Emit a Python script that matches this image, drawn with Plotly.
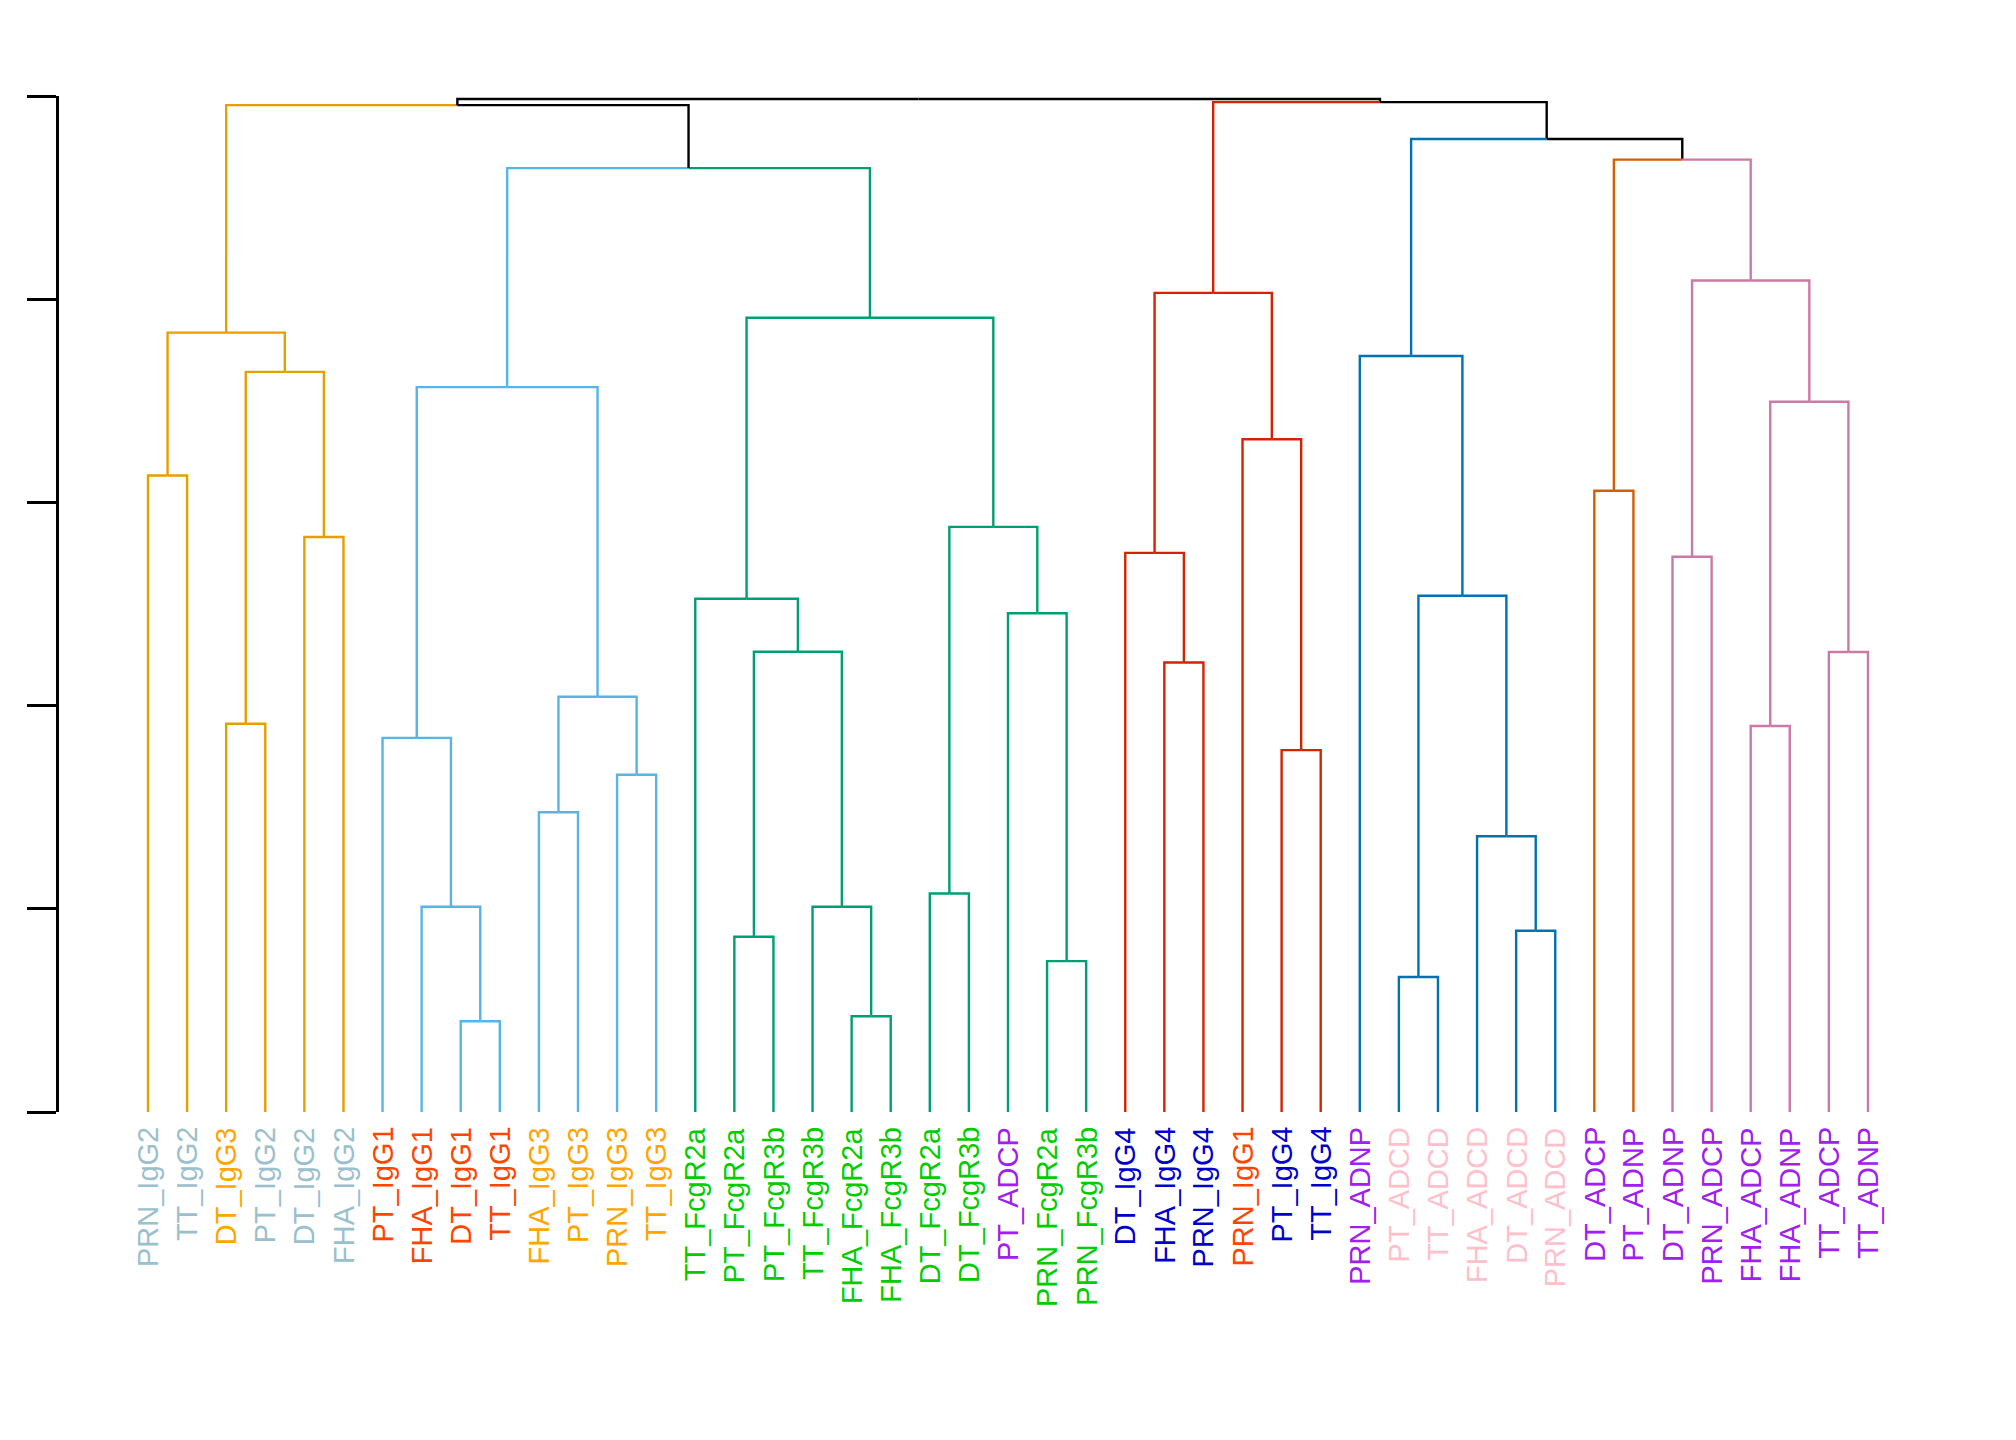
# %%
import plotly.graph_objects as go

# leaves in plotted order (left to right)
leaf_labels = [
    'PRN_IgG2', 'TT_IgG2', 'DT_IgG3', 'PT_IgG2', 'DT_IgG2', 'FHA_IgG2',
    'PT_IgG1', 'FHA_IgG1', 'DT_IgG1', 'TT_IgG1',
    'FHA_IgG3', 'PT_IgG3', 'PRN_IgG3', 'TT_IgG3',
    'TT_FcgR2a', 'PT_FcgR2a', 'PT_FcgR3b', 'TT_FcgR3b', 'FHA_FcgR2a',
    'FHA_FcgR3b', 'DT_FcgR2a', 'DT_FcgR3b', 'PT_ADCP', 'PRN_FcgR2a',
    'PRN_FcgR3b',
    'DT_IgG4', 'FHA_IgG4', 'PRN_IgG4', 'PRN_IgG1', 'PT_IgG4', 'TT_IgG4',
    'PRN_ADNP', 'PT_ADCD', 'TT_ADCD', 'FHA_ADCD', 'DT_ADCD', 'PRN_ADCD',
    'DT_ADCP', 'PT_ADNP',
    'DT_ADNP', 'PRN_ADCP', 'FHA_ADCP', 'FHA_ADNP', 'TT_ADCP', 'TT_ADNP',
]

# label colour by feature type
feature_colors = {
    'IgG1': '#FF4500', 'IgG2': '#9AC0CD', 'IgG3': '#FFA500', 'IgG4': '#0000CD',
    'FcgR2a': '#00CD00', 'FcgR3b': '#00CD00',
    'ADCP': '#A020F0', 'ADNP': '#A020F0', 'ADCD': '#FFC0CB',
}

# merges like hclust$merge: negative = leaf position (1-based), positive = earlier merge
merge_left = [-1, -3, -5, 2, 1, -9, -8, -7, -11, -13, 9, 8,
              -16, -19, -18, 13, -15, -21, -24, -23, 18, 17, 12, 5,
              -27, -26, -30, -29, 26, -33, -36, -35, 30, -32,
              -38, -40, -42, -44, 37, 36, 35, 34, 29, 24]
merge_right = [-2, -4, -6, 3, 4, -10, 6, 7, -12, -14, 10, 11,
               -17, -20, 14, 15, 16, -22, -25, 19, 20, 21, 22, 23,
               -28, 25, -31, 27, 28, -34, -37, 31, 32, 33,
               -39, -41, -43, -45, 38, 39, 40, 41, 42, 43]
merge_height = [3.134, 1.912, 2.831, 3.644, 3.837, 0.447, 1.011, 1.842,
                1.476, 1.661, 2.045, 3.569,
                0.863, 0.472, 1.011, 2.266, 2.527, 1.076, 0.743, 2.456,
                2.881, 3.910, 4.647, 4.957,
                2.213, 2.753, 1.782, 3.312, 4.033, 0.665, 0.893, 1.358,
                2.542, 3.722,
                3.059, 2.734, 1.901, 2.265, 3.497, 4.094, 4.689, 4.790,
                4.972, 4.987]

# branch colour of each cluster (merge number -> colour)
cluster_colors = {
    5: '#E69F00', 12: '#56B4E9', 22: '#009E73', 29: '#D42300',
    34: '#0072B2', 35: '#D55E00', 40: '#CC79A7',
}

# %%
n_merge = len(merge_height)
node_x = {}
node_h = {}
node_col = {}

for i in range(len(leaf_labels)):
    node_x[-(i + 1)] = i + 1
    node_h[-(i + 1)] = 0.0

for m in range(1, n_merge + 1):
    l, r = merge_left[m - 1], merge_right[m - 1]
    node_x[m] = (node_x[l] + node_x[r]) / 2
    node_h[m] = merge_height[m - 1]


def paint(node, col):
    node_col[node] = col
    if node > 0:
        paint(merge_left[node - 1], col)
        paint(merge_right[node - 1], col)


for m in range(n_merge, 0, -1):
    if m not in node_col:
        node_col[m] = 'black'
for m, col in cluster_colors.items():
    paint(m, col)

# collect the elbow segments, grouped by colour
segs = {}
for m in range(1, n_merge + 1):
    for c in (merge_left[m - 1], merge_right[m - 1]):
        col = node_col[c]
        xs, ys = segs.setdefault(col, ([], []))
        xs += [node_x[c], node_x[c], node_x[m], None]
        ys += [node_h[c], node_h[m], node_h[m], None]

fig = go.Figure()
for col, (xs, ys) in segs.items():
    fig.add_trace(go.Scatter(x=xs, y=ys, mode='lines',
                             line=dict(color=col, width=2.4),
                             hoverinfo='skip', showlegend=False))

# page body has an 8px margin, so the figure is a bit smaller than the window
W, H = 2000, 1424

for i, lab in enumerate(leaf_labels):
    fig.add_annotation(x=i + 1, y=1 - 1117 / H, xref='x', yref='paper',
                       text=lab, textangle=-90, showarrow=False,
                       xanchor='center', yanchor='top',
                       font=dict(family='Liberation Sans', size=29,
                                 color=feature_colors[lab.split('_')[1]]))

x0 = 1 - 140 / 39.09
fig.update_layout(
    width=W, height=H,
    margin=dict(l=0, r=0, t=0, b=0),
    paper_bgcolor='white', plot_bgcolor='white',
    xaxis=dict(range=[x0, x0 + W / 39.09], visible=False),
    yaxis=dict(range=[0, 5], domain=[1 - 1104.1 / H, 1 - 88.4 / H],
               anchor='free', position=49 / W,
               showline=True, linecolor='black', linewidth=2.8,
               ticks='outside', tickvals=[0, 1, 2, 3, 4, 5],
               ticklen=29, tickwidth=2.8, tickcolor='black',
               showticklabels=False, showgrid=False, zeroline=False),
)
fig.write_html("out.html")
